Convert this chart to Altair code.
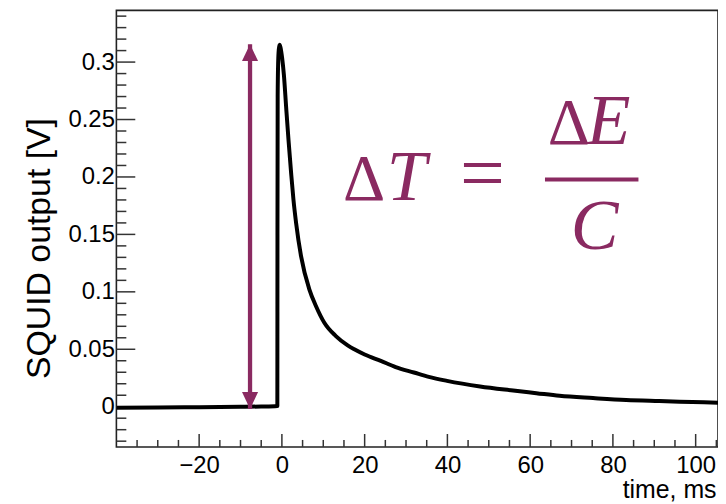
import altair as alt
import pandas as pd

# ---- data ----
time_ms = [-40, -30, -20, -10, -5, -1.1, -1.07, -1.02, -0.9, -0.75, -0.55, -0.35, -0.15, 0.08,
           0.48, 1.03, 1.6, 2.24, 2.8, 3.44, 4.64, 6.65, 8.25, 10.26, 13.05, 15.9, 17.5, 20,
           23.9, 27.5, 31.9, 35.5, 39.9, 47.9, 55.9, 61.5, 67.1, 75.2, 83.2, 91.2, 99.2, 105.4]
squid_v = [-0.001, -0.0007, -0.0004, -0.0001, 0.0002, 0.0007, 0.15, 0.27, 0.300, 0.311, 0.315, 0.313, 0.309, 0.303,
           0.289, 0.2605, 0.232, 0.203, 0.180, 0.1597, 0.1308, 0.1019, 0.0875, 0.0731, 0.0615, 0.0534, 0.050, 0.0455,
           0.0399, 0.0345, 0.0298, 0.026, 0.0225, 0.0176, 0.0141, 0.0118, 0.0095, 0.0075, 0.0058, 0.0049, 0.0041, 0.0035]

arrow_time = [-7.7]
arrow_bottom = [-0.002]
arrow_top = [0.3156]

x_major = [-20, 0, 20, 40, 60, 80, 100]
x_labels = ["−20", "0", "20", "40", "60", "80", "100"]
x_minor = [v for v in range(-35, 106, 5) if v not in x_major]
y_major = [0, 0.05, 0.1, 0.15, 0.2, 0.25, 0.3]
y_labels = ["0", "0.05", "0.1", "0.15", "0.2", "0.25", "0.3"]
y_minor = [round(i * 0.01, 2) for i in range(-3, 35) if i % 5 != 0]

x_domain = [-40, 105.4]
y_domain = [-0.035, 0.345]

W, H = 605, 439
PURPLE = "#8a2a61"
TICK = "#333333"

curve = pd.DataFrame({"t": time_ms, "v": squid_v})
arrow = pd.DataFrame({"t": arrow_time, "lo": arrow_bottom, "hi": arrow_top})
one = pd.DataFrame({"k": [0]})

xs = alt.Scale(domain=x_domain, nice=False, zero=False)
ys = alt.Scale(domain=y_domain, nice=False, zero=False)

x_label_expr = "{" + ",".join(f"'{v}':'{l}'" for v, l in zip(x_major, x_labels)) + "}[datum.value]"
y_label_expr = "{" + ",".join(f"'{v}':'{l}'" for v, l in zip(y_major, y_labels)) + "}[datum.value]"

x_axis = alt.Axis(values=x_major, labelExpr=x_label_expr, ticks=False, tickSize=0, domain=False, grid=False,
                  labelFont="Liberation Sans", labelFontSize=24, labelColor="black", labelPadding=7,
                  title="time, ms", titleFont="Liberation Sans", titleFontSize=25, titleFontWeight="normal",
                  titleColor="black", titleX=W - 2, titleY=51, titleAlign="right", titleBaseline="alphabetic")
y_axis = alt.Axis(values=y_major, labelExpr=y_label_expr, ticks=False, tickSize=0, domain=False, grid=False,
                  labelFont="Liberation Sans", labelFontSize=24, labelColor="black", labelPadding=2,
                  title="SQUID output [V]", titleFont="Liberation Sans", titleFontSize=34,
                  titleFontWeight="normal", titleColor="black", titleAngle=270, titleX=-67, titleY=239,
                  titleAlign="center", titleBaseline="alphabetic")

line = alt.Chart(curve).mark_line(color="black", strokeWidth=4, clip=True, strokeJoin="round",
                                  interpolate="monotone").encode(
    x=alt.X("t:Q", scale=xs, axis=x_axis),
    y=alt.Y("v:Q", scale=ys, axis=y_axis),
)

# ticks drawn inward (ROOT style)
ymaj = alt.Chart(pd.DataFrame({"y": y_major})).mark_rule(color=TICK, strokeWidth=1.5).encode(
    y=alt.Y("y:Q", scale=ys), x=alt.value(0), x2=alt.value(19))
ymin = alt.Chart(pd.DataFrame({"y": y_minor})).mark_rule(color=TICK, strokeWidth=1.5).encode(
    y=alt.Y("y:Q", scale=ys), x=alt.value(0), x2=alt.value(10))
xmaj = alt.Chart(pd.DataFrame({"x": x_major})).mark_rule(color=TICK, strokeWidth=1.5).encode(
    x=alt.X("x:Q", scale=xs), y=alt.value(H), y2=alt.value(H - 13))
xmin = alt.Chart(pd.DataFrame({"x": x_minor})).mark_rule(color=TICK, strokeWidth=1.5).encode(
    x=alt.X("x:Q", scale=xs), y=alt.value(H), y2=alt.value(H - 7))

# double-headed arrow
shaft = alt.Chart(arrow).mark_rule(color=PURPLE, strokeWidth=4.3).encode(
    x=alt.X("t:Q", scale=xs), y=alt.Y("lo:Q", scale=ys), y2="hi:Q")
head_up = alt.Chart(arrow).mark_point(shape="M0,0L-0.95,2L0.95,2Z", size=289, filled=True, opacity=1,
                                      color=PURPLE, strokeWidth=0).encode(
    x=alt.X("t:Q", scale=xs), y=alt.Y("hi:Q", scale=ys))
head_dn = alt.Chart(arrow).mark_point(shape="M0,0L-0.95,-2L0.95,-2Z", size=289, filled=True, opacity=1,
                                      color=PURPLE, strokeWidth=0).encode(
    x=alt.X("t:Q", scale=xs), y=alt.Y("lo:Q", scale=ys))


def glyph(txt, x, y, size=70, italic=False):
    return alt.Chart(one).mark_text(font="Liberation Serif", fontSize=size,
                                    fontStyle="italic" if italic else "normal",
                                    color=PURPLE, align="center", baseline="alphabetic").encode(
        x=alt.value(x), y=alt.value(y), text=alt.value(txt))


formula = [
    glyph("Δ", 249, 191, 66),
    glyph("T", 292, 191, 72, True),
    glyph("=", 368, 191, 80),
    glyph("Δ", 455, 134, 66),
    glyph("E", 495, 134, 72, True),
    glyph("C", 481, 240, 72, True),
]
frac = alt.Chart(one).mark_rule(color=PURPLE, strokeWidth=4).encode(
    x=alt.value(431), x2=alt.value(525), y=alt.value(170))

chart = alt.layer(ymin, ymaj, xmin, xmaj, line, shaft, head_up, head_dn, frac, *formula).properties(
    width=W, height=H,
    autosize=alt.AutoSizeParams(type="none"),
    padding={"left": 109, "top": 1, "right": 0, "bottom": 56},
    background="white",
).configure_view(stroke="#222222", strokeWidth=1.6)

chart.save("out.html", embed_options={"renderer": "svg", "actions": False})
